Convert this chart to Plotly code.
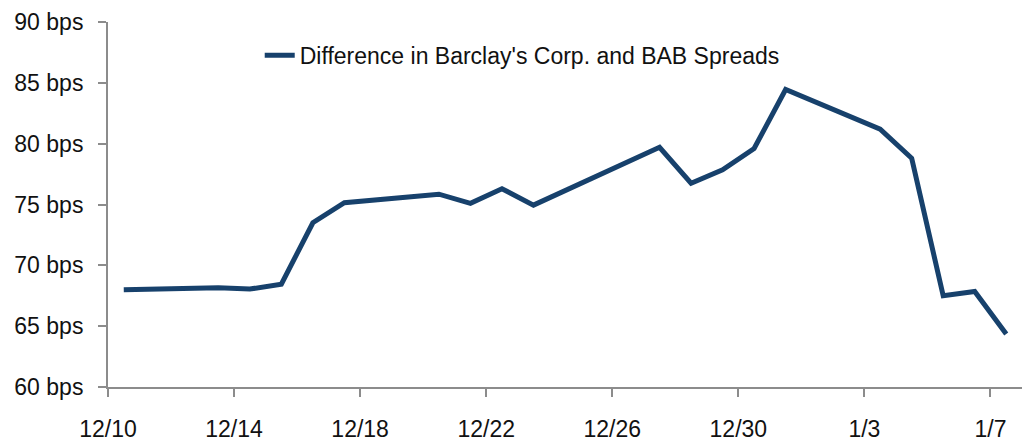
import plotly.graph_objects as go
import pandas as pd

dates = ["2010-12-10", "2010-12-13", "2010-12-14", "2010-12-15", "2010-12-16",
         "2010-12-17", "2010-12-20", "2010-12-21", "2010-12-22", "2010-12-23",
         "2010-12-27", "2010-12-28", "2010-12-29", "2010-12-30", "2010-12-31",
         "2011-01-03", "2011-01-04", "2011-01-05", "2011-01-06", "2011-01-07"]
spread_diff = [68.0, 68.15, 68.05, 68.45, 73.5,
               75.15, 75.85, 75.1, 76.3, 74.95,
               79.7, 76.75, 77.85, 79.6, 84.45,
               81.2, 78.8, 67.5, 67.85, 64.35]
series_name = "Difference in Barclay's Corp. and BAB Spreads"

tick_dates = ["2010-12-10", "2010-12-14", "2010-12-18", "2010-12-22",
              "2010-12-26", "2010-12-30", "2011-01-03", "2011-01-07"]
tick_labels = ["12/10", "12/14", "12/18", "12/22", "12/26", "12/30", "1/3", "1/7"]
y_ticks = [60, 65, 70, 75, 80, 85, 90]
y_labels = [f"{v} bps" for v in y_ticks]

FONT = "Liberation Sans"
AXIS_COLOR = "#8c8c8c"
LINE_COLOR = "#17416c"

fig = go.Figure()
fig.add_trace(go.Scatter(
    x=dates, y=spread_diff, mode="lines", name=series_name,
    xperiod=86400000, xperiodalignment="middle",
    line=dict(color=LINE_COLOR, width=5),
    showlegend=True,
))

fig.update_layout(
    width=1036, height=441,
    margin=dict(l=108, r=14, t=22, b=54, autoexpand=False),
    paper_bgcolor="white", plot_bgcolor="white",
    font=dict(family=FONT, size=23, color="#111111"),
    showlegend=True,
    legend=dict(x=0.166, y=0.909, xanchor="left", yanchor="middle",
                bgcolor="rgba(0,0,0,0)", borderwidth=0,
                font=dict(family=FONT, size=23, color="#111111")),
    xaxis=dict(
        type="date", range=["2010-12-10", "2011-01-08"], automargin=False,
        tickmode="array", tickvals=tick_dates, ticktext=tick_labels,
        showgrid=False, zeroline=False,
        showline=True, linecolor=AXIS_COLOR, linewidth=2,
        ticks="outside", ticklen=8, tickwidth=2, tickcolor=AXIS_COLOR,
        tickfont=dict(family=FONT, size=23, color="#111111"),
        ticklabelstandoff=12,
    ),
    yaxis=dict(
        range=[60, 90], automargin=False,
        tickmode="array", tickvals=y_ticks, ticktext=y_labels,
        showgrid=False, zeroline=False,
        showline=True, linecolor=AXIS_COLOR, linewidth=2,
        ticks="outside", ticklen=8, tickwidth=2, tickcolor=AXIS_COLOR,
        tickfont=dict(family=FONT, size=23, color="#111111"),
        ticklabelstandoff=10,
    ),
)

fig.write_html("out.html",
               config={"displayModeBar": False},
               post_script="document.body.style.margin='0px';document.body.style.overflow='hidden';")
